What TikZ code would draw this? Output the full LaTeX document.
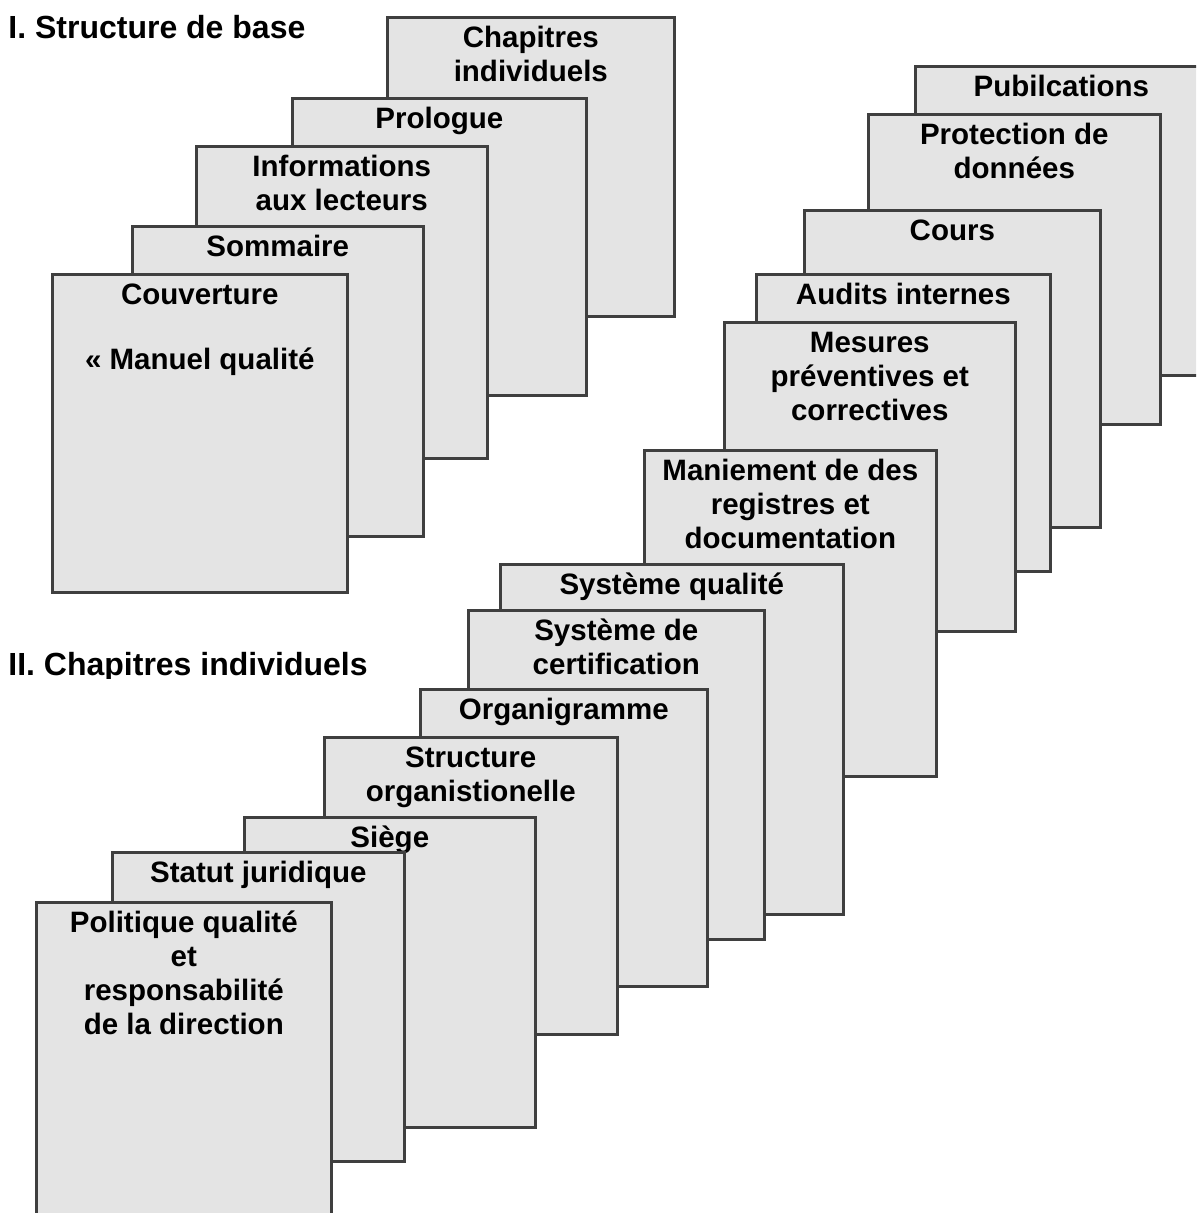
\documentclass[tikz,border=0pt]{standalone}
\usepackage{fontspec}
\setmainfont{Liberation Sans}
\definecolor{sheetfill}{HTML}{E4E4E4}
\definecolor{sheetline}{HTML}{3F3F3F}
\tikzset{
  sheet/.style={draw=sheetline, fill=sheetfill, line width=1.3pt, inner sep=0pt, anchor=north west},
  sheettext/.style={font=\bfseries\fontsize{14.75}{17}\selectfont, align=center, inner sep=0pt, anchor=north},
  heading/.style={font=\bfseries\fontsize{16}{19}\selectfont, inner sep=0pt, anchor=base west},
}
% \docsheet{name}{left}{top}{right}{bottom}{label}: one stacked sheet with its heading text
\newcommand\docsheet[6]{%
  \node[sheet, minimum width={(#4-#2)*0.5pt}, minimum height={(#5-#3)*0.5pt}] (#1) at (#2,#3) {};
  \node[sheettext] (#1-title) at ([yshift=-1.75pt]#1.north) {\rule{0pt}{14pt}#6};
}
\begin{document}
\begin{tikzpicture}[x=0.5pt, y=-0.5pt]
\useasboundingbox (0,0) rectangle (1196,1213);
\clip (0,0) rectangle (1196,1213);

% I. basic structure
\node[heading] (t1) at (8,39) {I. Structure de base};
\docsheet{chap}{386}{16}{673}{315}{Chapitres\\individuels}
\docsheet{prol}{291}{97}{585}{394}{Prologue}
\docsheet{info}{195}{145}{486}{457}{Informations\\aux lecteurs}
\docsheet{somm}{131}{225}{422}{535}{Sommaire}
\docsheet{couv}{51}{273}{346}{591}{Couverture\\[15.5pt]« Manuel qualité}

% II. individual chapters
\begin{scope}
  \clip (0,620) rectangle (460,678);
  \node[heading] (t2) at (8,675) {II. Chapitres individuels};
\end{scope}
\docsheet{publ}{914}{65}{1206}{374}{Pubilcations}
\docsheet{prot}{867}{113}{1159}{423}{Protection de\\données}
\docsheet{cours}{803}{209}{1099}{526}{Cours}
\docsheet{audit}{755}{273}{1049}{570}{Audits internes}
\docsheet{mesur}{723}{321}{1014}{630}{Mesures\\préventives et\\correctives}
\docsheet{manie}{643}{449}{935}{775}{Maniement de des\\registres et\\documentation}
\docsheet{sysq}{499}{563}{842}{913}{Système qualité}
\docsheet{sysc}{467}{609}{763}{938}{Système de\\certification}
\docsheet{orga}{419}{688}{706}{985}{Organigramme}
\docsheet{struc}{323}{736}{616}{1033}{Structure\\organistionelle}
\docsheet{siege}{243}{816}{534}{1126}{Siège}
\docsheet{statut}{111}{851}{403}{1160}{Statut juridique}
\docsheet{polit}{35}{901}{330}{1230}{Politique qualité\\et\\responsabilité\\de la direction}
\end{tikzpicture}
\end{document}
